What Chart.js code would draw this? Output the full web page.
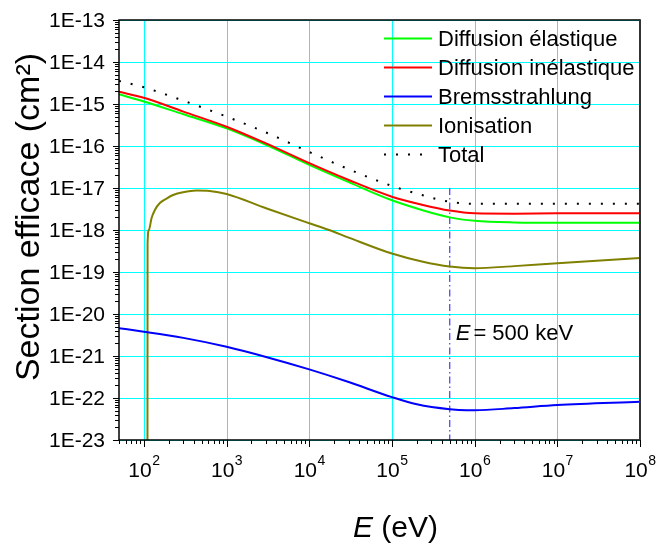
<!DOCTYPE html>
<html>
<head>
<meta charset="utf-8">
<script src="https://cdn.jsdelivr.net/npm/chart.js@4.4.1/dist/chart.umd.min.js"></script>
<style>
  body { margin: 0; background: #fff; }
  canvas { display: block; }
</style>
</head>
<body>
<canvas id="graph" width="656" height="545"></canvas>
<script>
// energies (eV) and cross sections (cm^2)
const energyMain = [50, 100, 300, 1e3, 3e3, 1e4, 3e4, 1e5, 2.3e5, 5e5, 1e6, 3e6, 1e7, 1e8];
const elastic = [1.70e-15, 1.15e-15, 5.7e-16, 2.63e-16, 1.07e-16, 3.55e-17, 1.38e-17, 5.1e-18, 3.0e-18, 2.0e-18, 1.66e-18, 1.51e-18, 1.48e-18, 1.48e-18];
const inelastic = [1.95e-15, 1.41e-15, 6.6e-16, 2.88e-16, 1.15e-16, 3.9e-17, 1.55e-17, 6.2e-18, 4.0e-18, 2.9e-18, 2.5e-18, 2.45e-18, 2.5e-18, 2.5e-18];
const total = [3.55e-15, 2.5e-15, 1.2e-15, 5.0e-16, 2.1e-16, 7.2e-17, 2.8e-17, 1.12e-17, 6.8e-18, 4.7e-18, 4.2e-18, 4.2e-18, 4.2e-18, 4.2e-18];

const bremsEnergy = [50, 100, 300, 1e3, 3e3, 1e4, 3e4, 1e5, 2e5, 5e5, 8e5, 1e6, 3e6, 1e7, 1e8];
const brems = [4.6e-21, 3.8e-21, 2.7e-21, 1.66e-21, 9.5e-22, 4.8e-22, 2.4e-22, 1.05e-22, 7.1e-23, 5.4e-23, 5.1e-23, 5.1e-23, 5.75e-23, 6.8e-23, 8.1e-23];

const ionEnergy = [110.5, 110.8, 114.8, 123.7, 135.7, 156, 187.6, 225.5, 297.6, 431, 624, 1e3, 3e3, 1e4, 1.74e4, 3e4, 1e5, 2.3e5, 5e5, 1e6, 3e6, 1e7, 1e8];
const ionisation = [1e-23, 4.8e-19, 1.0e-18, 1.9e-18, 3.0e-18, 4.4e-18, 5.6e-18, 6.8e-18, 7.9e-18, 8.7e-18, 8.5e-18, 7.2e-18, 3.3e-18, 1.45e-18, 1.0e-18, 6.6e-19, 2.75e-19, 1.78e-19, 1.35e-19, 1.23e-19, 1.38e-19, 1.62e-19, 2.14e-19];

const markerEnergy = 5e5;
const markerSpan = [1e-17, 1e-23];

const xRange = [50, 1e8];
const yRange = [1e-23, 1e-13];

const seriesLabels = ["Diffusion élastique", "Diffusion inélastique", "Bremsstrahlung", "Ionisation", "Total"];

const FONT = "'Liberation Sans', Arial, sans-serif";

function pts(xs, ys) {
  return xs.map((x, i) => ({ x: x, y: ys[i] }));
}

// 1..9 x 10^n ticks, major on powers of ten
function logTicks(min, max) {
  const out = [];
  const e0 = Math.floor(Math.log10(min) + 1e-9);
  const e1 = Math.ceil(Math.log10(max) - 1e-9);
  for (let e = e0; e <= e1; e++) {
    for (let m = 1; m <= 9; m++) {
      const v = parseFloat((m * Math.pow(10, e)).toPrecision(6));
      if (v >= min * 0.999999 && v <= max * 1.000001) out.push({ value: v, major: m === 1 });
    }
  }
  return out;
}

// cyan grid on the decades, under the curves
const gridLines = {
  id: "gridLines",
  beforeDatasetsDraw(chart) {
    const ctx = chart.ctx;
    const a = chart.chartArea;
    const xs = chart.scales.x;
    const ys = chart.scales.y;
    ctx.save();
    ctx.strokeStyle = "#00ffff";
    ctx.lineWidth = 1;
    xs.ticks.filter(t => t.major).forEach(t => {
      const px = Math.round(xs.getPixelForValue(t.value)) + 0.5;
      ctx.beginPath();
      ctx.moveTo(px, a.top);
      ctx.lineTo(px, a.bottom);
      ctx.stroke();
    });
    ys.ticks.filter(t => t.major).forEach(t => {
      const py = Math.round(ys.getPixelForValue(t.value)) + 0.5;
      ctx.beginPath();
      ctx.moveTo(a.left, py);
      ctx.lineTo(a.right, py);
      ctx.stroke();
    });
    ctx.restore();
  }
};

const decor = {
  id: "decor",
  afterDraw(chart) {
    const ctx = chart.ctx;
    const a = chart.chartArea;
    const xs = chart.scales.x;
    const ys = chart.scales.y;
    ctx.save();

    // frame
    ctx.strokeStyle = "#000";
    ctx.lineWidth = 1.5;
    ctx.beginPath();
    ctx.moveTo(a.right, a.top);
    ctx.lineTo(a.left, a.top);
    ctx.lineTo(a.left, a.bottom);
    ctx.lineTo(a.right, a.bottom);
    ctx.stroke();
    ctx.strokeStyle = "#333";
    ctx.lineWidth = 2;
    ctx.beginPath();
    ctx.moveTo(a.right, a.top - 0.75);
    ctx.lineTo(a.right, a.bottom);
    ctx.stroke();

    // tick marks
    ctx.strokeStyle = "#000";
    ctx.lineWidth = 1;
    xs.ticks.forEach(t => {
      const px = Math.round(xs.getPixelForValue(t.value)) + 0.5;
      ctx.beginPath();
      ctx.moveTo(px, a.bottom);
      ctx.lineTo(px, a.bottom + (t.major ? 7 : 4));
      ctx.stroke();
    });
    ys.ticks.forEach(t => {
      const py = Math.round(ys.getPixelForValue(t.value)) + 0.5;
      ctx.beginPath();
      ctx.moveTo(a.left, py);
      ctx.lineTo(a.left - (t.major ? 6 : 4), py);
      ctx.stroke();
    });

    // tick labels
    ctx.fillStyle = "#000";
    ctx.font = "21px " + FONT;
    ctx.textAlign = "right";
    ctx.textBaseline = "middle";
    ys.ticks.filter(t => t.major).forEach(t => {
      const e = Math.round(Math.log10(t.value));
      ctx.fillText("1E" + e, a.left - 14, ys.getPixelForValue(t.value) + 1);
    });
    ctx.textBaseline = "alphabetic";
    ctx.textAlign = "left";
    xs.ticks.filter(t => t.major).forEach(t => {
      const e = String(Math.round(Math.log10(t.value)));
      ctx.font = "21px " + FONT;
      const w1 = ctx.measureText("10").width;
      ctx.font = "14px " + FONT;
      const w2 = ctx.measureText(e).width;
      const x0 = xs.getPixelForValue(t.value) - (w1 + w2) / 2;
      ctx.font = "21px " + FONT;
      ctx.fillText("10", x0, a.bottom + 37);
      ctx.font = "14px " + FONT;
      ctx.fillText(e, x0 + w1 + 0.5, a.bottom + 25);
    });

    // axis titles
    ctx.font = "italic 30px " + FONT;
    const wE = ctx.measureText("E").width;
    ctx.font = "30px " + FONT;
    const wRest = ctx.measureText(" (eV)").width;
    const tx = (a.left + a.right) / 2 + 16 - (wE + wRest) / 2;
    ctx.font = "italic 30px " + FONT;
    ctx.fillText("E", tx, a.bottom + 97);
    ctx.font = "30px " + FONT;
    ctx.fillText(" (eV)", tx + wE, a.bottom + 97);

    ctx.save();
    ctx.translate(39, (a.top + a.bottom) / 2 - 13);
    ctx.rotate(-Math.PI / 2);
    ctx.textAlign = "center";
    ctx.font = "34px " + FONT;
    ctx.fillText("Section efficace (cm²)", 0, 0);
    ctx.restore();

    // marker annotation
    const mx = xs.getPixelForValue(markerEnergy) + 6;
    const my = ys.getPixelForValue(2.4e-21);
    ctx.textAlign = "left";
    ctx.font = "italic 22px " + FONT;
    ctx.fillText("E", mx, my);
    const wm = ctx.measureText("E").width;
    ctx.font = "22px " + FONT;
    ctx.fillText("= 500 keV", mx + wm + 3, my);

    // legend
    const lx = 384, ly = 38.5, step = 29;
    chart.data.datasets.forEach((ds, i) => {
      if (!ds.label) return;
      const y = ly + i * step;
      ctx.strokeStyle = ds.borderColor;
      ctx.lineWidth = ds.borderWidth;
      ctx.setLineDash(ds.borderDash || []);
      ctx.beginPath();
      ctx.moveTo(lx, y);
      ctx.lineTo(lx + 48, y);
      ctx.stroke();
      ctx.setLineDash([]);
      ctx.fillStyle = "#000";
      ctx.font = "22px " + FONT;
      ctx.textBaseline = "middle";
      ctx.fillText(ds.label, lx + 54, y + 1);
    });
    ctx.restore();
  }
};

const line = (label, data, color, extra) => Object.assign({
  label: label,
  data: data,
  borderColor: color,
  backgroundColor: color,
  borderWidth: 2,
  pointRadius: 0,
  fill: false,
  cubicInterpolationMode: "monotone"
}, extra || {});

const axisCommon = (range) => ({
  type: "logarithmic",
  min: range[0],
  max: range[1],
  afterBuildTicks: (scale) => { scale.ticks = logTicks(range[0], range[1]); },
  ticks: { display: false, autoSkip: false },
  border: { display: false },
  grid: { display: false, drawTicks: false }
});

new Chart(document.getElementById("graph"), {
  type: "line",
  data: {
    datasets: [
      line(seriesLabels[0], pts(energyMain, elastic), "#00ff00", { order: 4 }),
      line(seriesLabels[1], pts(energyMain, inelastic), "#ff0000", { order: 3 }),
      line(seriesLabels[2], pts(bremsEnergy, brems), "#0000ff", { order: 2 }),
      line(seriesLabels[3], pts(ionEnergy, ionisation), "#808000", { order: 5 }),
      line(seriesLabels[4], pts(energyMain, total), "#000000", { borderDash: [2, 10], order: 1 }),
      line("", pts([markerEnergy, markerEnergy], markerSpan), "#3c3cff",
        { borderWidth: 1.2, borderDash: [7, 3, 1.5, 3], cubicInterpolationMode: "default", tension: 0, order: 6 })
    ]
  },
  options: {
    responsive: false,
    animation: false,
    devicePixelRatio: 1,
    layout: { padding: { left: 119, top: 20, right: 16, bottom: 105 } },
    plugins: { legend: { display: false }, tooltip: { enabled: false } },
    scales: {
      x: axisCommon(xRange),
      y: axisCommon(yRange)
    }
  },
  plugins: [gridLines, decor]
});
</script>
</body>
</html>
